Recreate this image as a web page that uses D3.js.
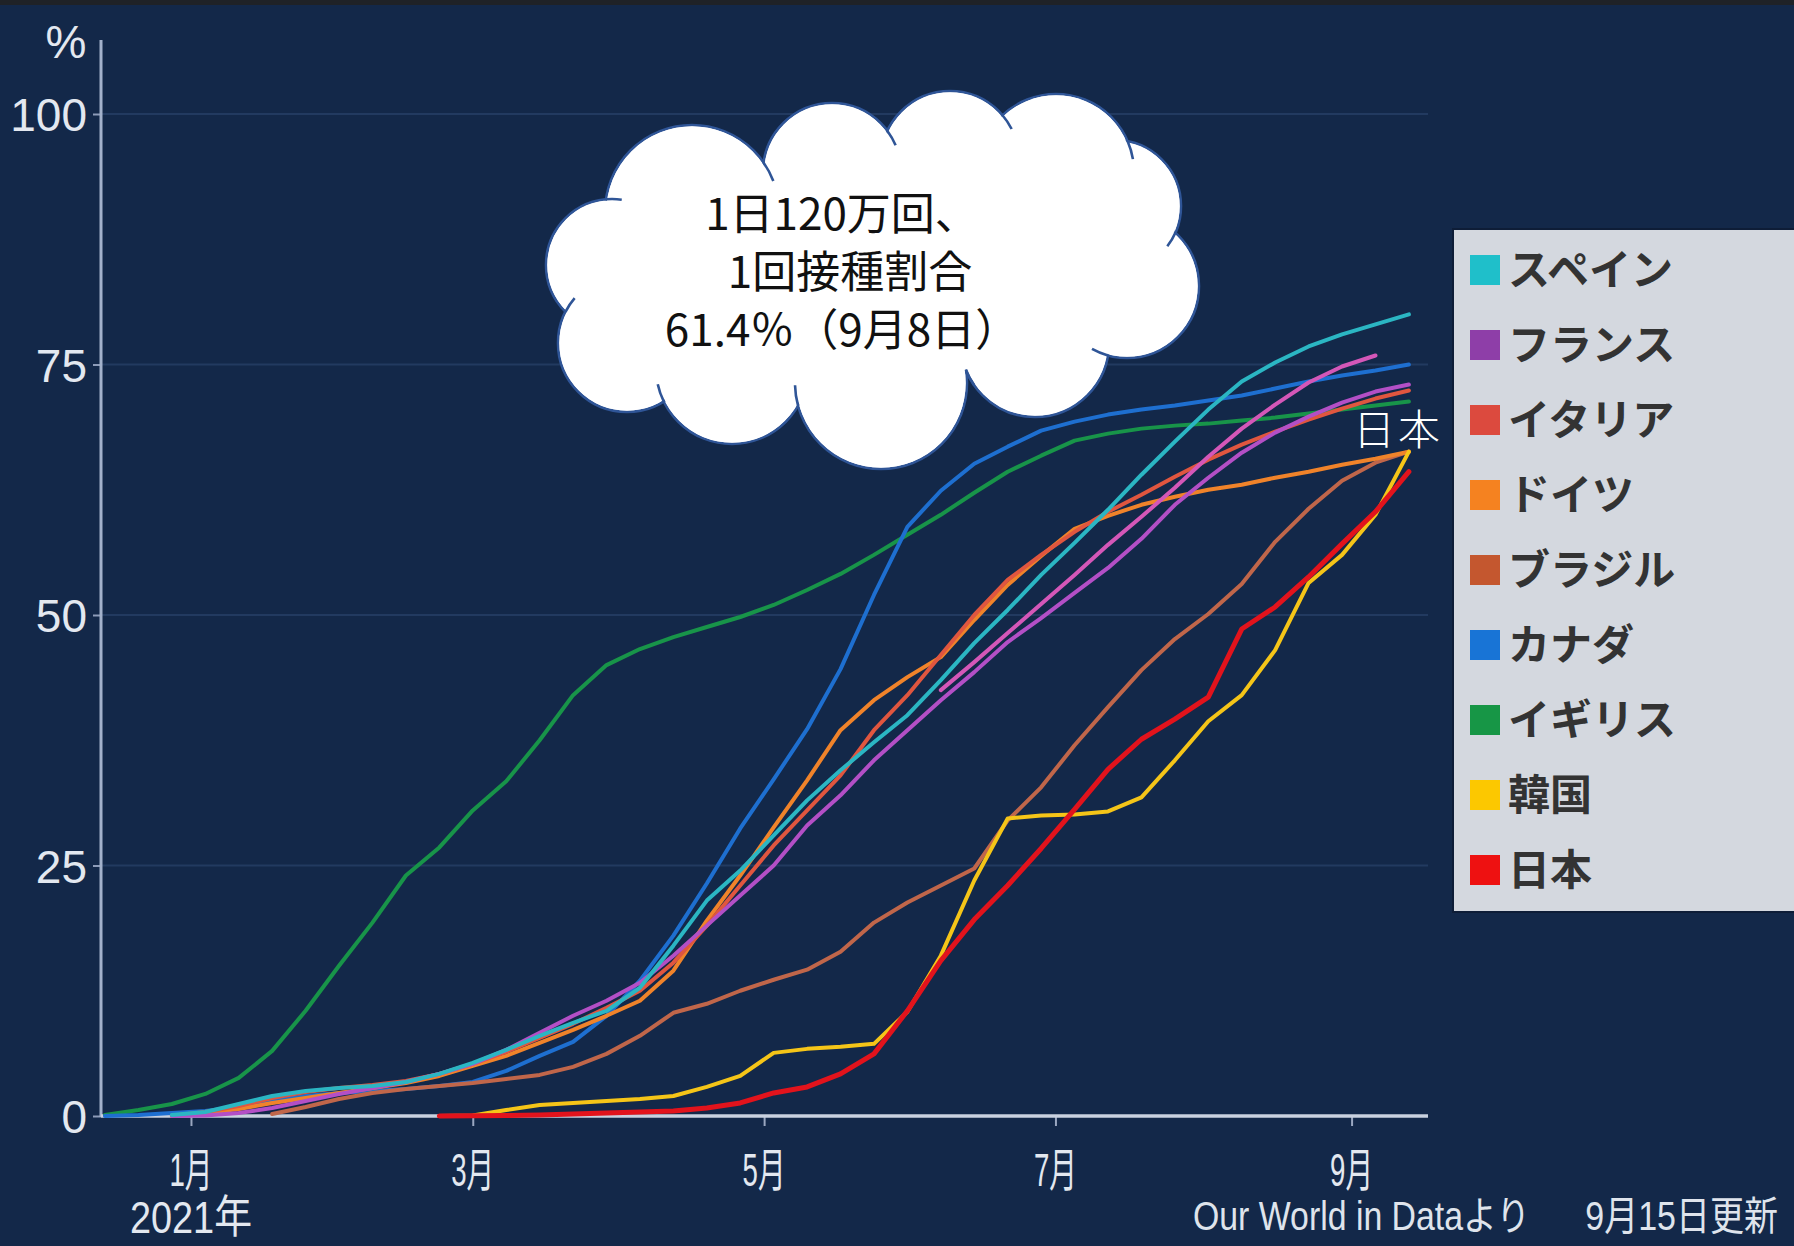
<!DOCTYPE html>
<html>
<head>
<meta charset="utf-8">
<script src="https://cdn.jsdelivr.net/npm/d3@7"></script>
<style>
  html, body { margin: 0; padding: 0; background: #132849; }
  svg { display: block; }
</style>
</head>
<body>
<svg id="chart" width="1794" height="1246"></svg>
<script>
// weekly readings, share of people with at least one dose (%)
var dates = ["2020-12-14","2020-12-21","2020-12-28","2021-01-04","2021-01-11","2021-01-18","2021-01-25",
  "2021-02-01","2021-02-08","2021-02-15","2021-02-22","2021-03-01","2021-03-08","2021-03-15","2021-03-22",
  "2021-03-29","2021-04-05","2021-04-12","2021-04-19","2021-04-26","2021-05-03","2021-05-10","2021-05-17",
  "2021-05-24","2021-05-31","2021-06-07","2021-06-14","2021-06-21","2021-06-28","2021-07-05","2021-07-12",
  "2021-07-19","2021-07-26","2021-08-02","2021-08-09","2021-08-16","2021-08-23","2021-08-30","2021-09-06",
  "2021-09-13"];

var spain   = [null,null,0.1,0.4,1.2,2.0,2.5,2.8,3.0,3.4,4.2,5.3,6.6,8.0,9.3,10.5,12.8,17.0,21.5,24.5,28.0,31.5,34.5,37.3,40.0,43.5,47.2,50.5,54.0,57.2,60.5,64.0,67.3,70.5,73.3,75.2,76.8,78.0,79.0,80.0];
var france  = [null,null,0.0,0.05,0.3,0.8,1.5,2.2,2.8,3.4,4.2,5.2,6.6,8.3,10.0,11.5,13.3,16.0,19.0,22.0,25.0,29.0,32.0,35.5,38.5,41.5,44.3,47.3,49.7,52.2,54.7,57.6,61.0,63.7,66.2,68.2,69.8,71.2,72.3,73.0];
// magenta line without a legend entry
var unlabelled = [null,null,null,null,null,null,null,null,null,null,null,null,null,null,null,null,null,null,null,null,null,null,null,null,null,42.5,45.3,48.2,51.1,54.0,57.0,59.8,62.7,65.8,68.6,71.0,73.2,74.8,75.9,null];
var italy   = [null,null,0.02,0.4,1.0,1.8,2.4,2.8,3.1,3.5,4.2,5.2,6.4,7.8,9.2,10.8,12.5,15.3,19.0,23.0,27.0,30.5,34.0,38.5,42.0,46.0,50.0,53.5,56.0,58.3,60.3,62.0,63.8,65.5,67.0,68.3,69.5,70.6,71.6,72.4];
var germany = [null,null,0.05,0.3,0.7,1.3,1.8,2.3,2.8,3.3,4.0,5.0,6.0,7.3,8.6,10.0,11.5,14.5,19.5,24.0,28.8,33.5,38.5,41.5,43.8,45.8,49.5,53.0,55.9,58.6,59.9,61.0,61.8,62.5,63.0,63.7,64.3,65.0,65.6,66.3];
var brazil  = [null,null,null,null,null,0.2,0.9,1.7,2.3,2.7,3.0,3.3,3.7,4.1,4.9,6.2,8.0,10.3,11.2,12.5,13.6,14.6,16.4,19.3,21.3,23.0,24.7,29.5,32.8,37.0,40.8,44.5,47.6,50.1,53.1,57.3,60.6,63.4,65.2,66.3];
var canada  = [0.0,0.1,0.3,0.5,0.9,1.5,2.0,2.3,2.5,2.7,3.0,3.4,4.5,6.0,7.4,10.0,13.5,18.0,23.2,28.7,33.6,38.6,44.6,52.0,58.8,62.4,65.1,66.8,68.4,69.3,70.0,70.5,70.9,71.4,71.9,72.6,73.3,73.9,74.4,75.0];
var uk      = [0.1,0.6,1.2,2.2,3.8,6.5,10.5,15.0,19.3,24.0,26.8,30.5,33.4,37.5,42.0,45.0,46.6,47.8,48.8,49.8,51.0,52.5,54.1,56.0,58.0,60.0,62.2,64.3,65.9,67.4,68.1,68.6,68.9,69.1,69.4,69.7,70.1,70.5,70.9,71.3];
var korea   = [null,null,null,null,null,null,null,null,null,null,0.0,0.05,0.6,1.1,1.3,1.5,1.7,2.0,2.9,4.0,6.3,6.7,6.9,7.2,10.4,16.0,23.5,29.7,30.0,30.1,30.4,31.8,35.5,39.4,42.0,46.5,53.2,56.0,60.0,66.3];
var japan   = [null,null,null,null,null,null,null,null,null,null,0.0,0.02,0.05,0.1,0.2,0.3,0.4,0.5,0.8,1.3,2.3,2.9,4.2,6.2,10.5,15.5,19.6,23.0,26.7,30.6,34.6,37.6,39.6,41.8,48.6,50.8,53.8,57.1,60.3,64.3];

var legendNames = ["スペイン","フランス","イタリア","ドイツ","ブラジル","カナダ","イギリス","韓国","日本"];
var yTicks = [0, 25, 50, 75, 100];
var monthTicks = ["2021-01-01","2021-03-01","2021-05-01","2021-07-01","2021-09-01"];
var monthLabels = ["1月","3月","5月","7月","9月"];

var parse = d3.timeParse("%Y-%m-%d");
var days = dates.map(parse);

var series = {
  spain:      { values: spain,      line: "#2bb6c3", key: "#1fbfca" },
  france:     { values: france,     line: "#b34fc6", key: "#8e3ea8" },
  unlabelled: { values: unlabelled, line: "#d457b8", key: null },
  italy:      { values: italy,      line: "#e0563f", key: "#dc4a3e" },
  germany:    { values: germany,    line: "#f0832a", key: "#f58220" },
  brazil:     { values: brazil,     line: "#c0664a", key: "#c4572f" },
  canada:     { values: canada,     line: "#1e6fd0", key: "#1874d6" },
  uk:         { values: uk,         line: "#189449", key: "#179646" },
  korea:      { values: korea,      line: "#f5c518", key: "#fcc800" },
  japan:      { values: japan,      line: "#e2131c", key: "#ee1111" }
};
var legendOrder = ["spain","france","italy","germany","brazil","canada","uk","korea","japan"];
var drawOrder = ["uk","canada","brazil","germany","italy","france","unlabelled","spain","korea","japan"];

var svg = d3.select("#chart");
var W = 1794, H = 1246;

svg.append("rect").attr("width", W).attr("height", H).attr("fill", "#132849");
svg.append("rect").attr("width", W).attr("height", 5).attr("fill", "#1f2227");

var x = d3.scaleTime()
  .domain([parse("2020-12-14"), parse("2021-09-17")])
  .range([105, 1428]);
var y = d3.scaleLinear().domain([0, 100]).range([1116, 114]);

// grid
svg.append("g").selectAll("line")
  .data(yTicks.filter(function(d) { return d > 0; }))
  .enter().append("line")
  .attr("x1", 101).attr("x2", 1428)
  .attr("y1", function(d) { return y(d); })
  .attr("y2", function(d) { return y(d); })
  .attr("stroke", "#223a60").attr("stroke-width", 2);

// y axis
var yAxis = svg.append("g").attr("transform", "translate(101,0)")
  .call(d3.axisLeft(y).tickValues(yTicks).tickSize(8).tickPadding(6));
yAxis.select(".domain").remove();
yAxis.selectAll(".tick line").attr("stroke", "#8d9bb8").attr("stroke-width", 2);
yAxis.selectAll(".tick text")
  .attr("fill", "#e3e8f0")
  .style("font-family", "'Liberation Sans', Arial, sans-serif")
  .style("font-size", "46px")
  .attr("dy", "0.36em");
svg.append("line").attr("x1", 101).attr("x2", 101).attr("y1", 40).attr("y2", 1117)
  .attr("stroke", "#a3b1cb").attr("stroke-width", 3);
svg.append("text").attr("x", 66).attr("y", 58).attr("text-anchor", "middle")
  .attr("fill", "#e3e8f0")
  .style("font-family", "'Liberation Sans', Arial, sans-serif")
  .style("font-size", "46px")
  .text("%");

// x axis
var xAxis = svg.append("g").attr("transform", "translate(0,1116)")
  .call(d3.axisBottom(x).tickValues(monthTicks.map(parse)).tickSize(10).tickFormat(""));
xAxis.select(".domain").remove();
xAxis.selectAll(".tick line").attr("stroke", "#9aa7c0").attr("stroke-width", 2);
svg.append("line").attr("x1", 101).attr("x2", 1428).attr("y1", 1116).attr("y2", 1116)
  .attr("stroke", "#c9d1df").attr("stroke-width", 3.5);

svg.append("g").selectAll("text")
  .data(monthTicks)
  .enter().append("text")
  .attr("x", function(d) { return x(parse(d)); })
  .attr("y", 1186)
  .attr("text-anchor", "middle")
  .attr("textLength", 43).attr("lengthAdjust", "spacingAndGlyphs")
  .attr("fill", "#e3e8f0")
  .style("font-family", "'Liberation Sans', 'Noto Sans CJK JP', sans-serif")
  .style("font-size", "46px")
  .text(function(d, i) { return monthLabels[i]; });
svg.append("text")
  .attr("x", x(parse(monthTicks[0]))).attr("y", 1233)
  .attr("text-anchor", "middle")
  .attr("textLength", 122).attr("lengthAdjust", "spacingAndGlyphs")
  .attr("fill", "#e3e8f0")
  .style("font-family", "'Liberation Sans', 'Noto Sans CJK JP', sans-serif")
  .style("font-size", "45px")
  .text("2021年");

// lines
var line = d3.line()
  .defined(function(d) { return d.v != null; })
  .x(function(d) { return x(d.t); })
  .y(function(d) { return y(d.v); });

svg.append("g").selectAll("path")
  .data(drawOrder)
  .enter().append("path")
  .attr("fill", "none")
  .attr("stroke", function(k) { return series[k].line; })
  .attr("stroke-width", function(k) { return k == "japan" ? 5 : 4; })
  .attr("stroke-linejoin", "round")
  .attr("stroke-linecap", "round")
  .attr("d", function(k) {
    return line(series[k].values.map(function(v, i) { return { t: days[i], v: v }; }));
  });

// label at the right end
svg.append("text")
  .attr("x", x(days[days.length - 1]) - 56)
  .attr("y", y(67))
  .attr("fill", "#ffffff")
  .style("font-family", "'Noto Sans CJK JP', sans-serif")
  .style("font-weight", 300)
  .style("font-size", "42px")
  .style("letter-spacing", "3px")
  .text("日本");

// legend
var legend = svg.append("g");
legend.append("rect")
  .attr("x", 1453).attr("y", 229).attr("width", 350).attr("height", 683)
  .attr("fill", "#d4d8df").attr("stroke", "#0e1d37").attr("stroke-width", 2);
var item = legend.selectAll("g.item")
  .data(legendOrder)
  .enter().append("g")
  .attr("class", "item")
  .attr("transform", function(d, i) { return "translate(1470," + (270 + i * 75) + ")"; });
item.append("rect")
  .attr("x", 0).attr("y", -15).attr("width", 30).attr("height", 30)
  .attr("fill", function(k) { return series[k].key; });
item.append("text")
  .attr("x", 38).attr("y", 15)
  .attr("fill", "#333333")
  .style("font-family", "'Noto Sans CJK JP', sans-serif")
  .style("font-weight", 700)
  .style("font-size", "42px")
  .text(function(k, i) { return legendNames[i]; });

// source note
svg.append("text")
  .attr("x", 1193).attr("y", 1230)
  .attr("textLength", 337).attr("lengthAdjust", "spacingAndGlyphs")
  .attr("fill", "#dfe4ec")
  .style("font-family", "'Liberation Sans', 'Noto Sans CJK JP', sans-serif")
  .style("font-size", "40px")
  .text("Our World in Dataより");
svg.append("g")
  .attr("transform", "translate(1778,1230) scale(0.85,1)")
  .append("text")
  .attr("x", 0).attr("y", 0)
  .attr("text-anchor", "end")
  .attr("fill", "#dfe4ec")
  .style("font-family", "'Liberation Sans', 'Noto Sans CJK JP', sans-serif")
  .style("font-size", "40px")
  .text("9月15日更新");

// speech cloud: ring of lobes, clockwise from the left
var cloudLobes = [[612,265,66],[692,212,87],[832,172,69],[950,160,69],[1056,172,78],[1115,206,66],
  [1127,286,72],[1035,343,74],[881,383,86],[732,368,76],[627,343,69]];
var cloudCenter = [860, 270];
var cloud = svg.append("g");
cloud.selectAll("circle.edge").data(cloudLobes).enter().append("circle")
  .attr("class", "edge")
  .attr("cx", function(d) { return d[0]; }).attr("cy", function(d) { return d[1]; })
  .attr("r", function(d) { return d[2]; })
  .attr("fill", "#ffffff").attr("stroke", "#2f5597").attr("stroke-width", 2.6);
cloud.selectAll("circle.fill").data(cloudLobes).enter().append("circle")
  .attr("class", "fill")
  .attr("cx", function(d) { return d[0]; }).attr("cy", function(d) { return d[1]; })
  .attr("r", function(d) { return d[2] - 1.4; })
  .attr("fill", "#ffffff");
cloud.append("ellipse").attr("cx", 860).attr("cy", 270).attr("rx", 250).attr("ry", 110).attr("fill", "#ffffff");

// short inner arcs where neighbouring lobes meet
function outerMeet(a, b) {
  var dx = b[0] - a[0], dy = b[1] - a[1], d = Math.sqrt(dx * dx + dy * dy);
  var l = (a[2] * a[2] - b[2] * b[2] + d * d) / (2 * d);
  var h = Math.sqrt(Math.max(0, a[2] * a[2] - l * l));
  var mx = a[0] + dx * l / d, my = a[1] + dy * l / d;
  var p1 = [mx + h * dy / d, my - h * dx / d], p2 = [mx - h * dy / d, my + h * dx / d];
  function far(p) { return Math.hypot(p[0] - cloudCenter[0], p[1] - cloudCenter[1]); }
  return far(p1) > far(p2) ? p1 : p2;
}
var hooks = cloudLobes.map(function(a, i) {
  var b = cloudLobes[(i + 1) % cloudLobes.length];
  var p = outerMeet(a, b);
  var t = Math.atan2(p[1] - a[1], p[0] - a[0]);
  var delta = 0.24;
  var tp = t + delta;
  var inside = Math.hypot(a[0] + a[2] * Math.cos(tp) - b[0], a[1] + a[2] * Math.sin(tp) - b[1]) < b[2];
  var path = d3.path();
  path.moveTo(p[0], p[1]);
  path.arc(a[0], a[1], a[2], t, inside ? t + delta : t - delta, !inside);
  return path.toString();
});
cloud.selectAll("path.hook").data(hooks).enter().append("path")
  .attr("class", "hook")
  .attr("d", function(d) { return d; })
  .attr("fill", "none").attr("stroke", "#2f5597").attr("stroke-width", 2.6);

var cloudText = ["1日120万回、", "1回接種割合", "61.4％（9月8日）"];
cloud.selectAll("text").data(cloudText).enter().append("text")
  .attr("x", function(d, i) { return i == 1 ? 850 : 842; })
  .attr("y", function(d, i) { return 230 + i * 58; })
  .attr("text-anchor", "middle")
  .attr("fill", "#111111")
  .style("font-family", "'Noto Sans CJK JP', sans-serif")
  .style("font-size", "44px")
  .text(function(d) { return d; });
</script>
</body>
</html>
